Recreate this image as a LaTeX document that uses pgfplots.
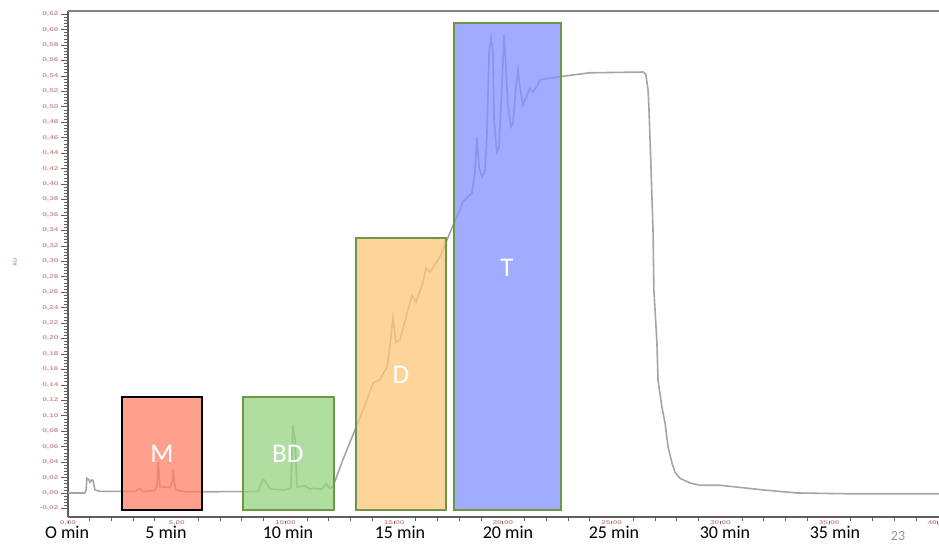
\documentclass[border=0pt]{standalone}
\usepackage{pgfplots}
\pgfplotsset{compat=1.18}
\usepackage{fontspec}
\setmainfont{Carlito}
\setsansfont{Liberation Sans}
\definecolor{curvegray}{RGB}{165,165,165}
\definecolor{axisgray}{RGB}{95,95,95}
\definecolor{topgray}{RGB}{130,130,130}
\definecolor{ticklab}{RGB}{205,150,145}
\definecolor{mfill}{RGB}{255,128,102}
\definecolor{bdfill}{RGB}{148,211,128}
\definecolor{dfill}{RGB}{255,198,122}
\definecolor{tfill}{RGB}{128,144,255}
\definecolor{boxgreen}{RGB}{110,150,70}
\definecolor{pagegray}{RGB}{150,150,150}
\begin{document}
\begin{tikzpicture}[x=1pt,y=1pt]
\useasboundingbox (0,0) rectangle (939,544);
\begin{axis}[
  at={(68pt,27pt)}, anchor=south west,
  scale only axis, width=871pt, height=506pt,
  xmin=0, xmax=40.05, ymin=-0.0311, ymax=0.624,
  axis x line=box, axis y line=left,
  axis line style={-, draw=axisgray, line width=1.1pt},
  xtick={0,5,...,40}, minor x tick num=4,
  ytick={-0.02,0,0.02,0.04,0.06,0.08,0.10,0.12,0.14,0.16,0.18,0.20,0.22,0.24,0.26,0.28,0.30,0.32,0.34,0.36,0.38,0.40,0.42,0.44,0.46,0.48,0.50,0.52,0.54,0.56,0.58,0.60,0.62},
  minor y tick num=4,
  xtick pos=lower, ytick pos=lower,
  tick align=outside,
  major tick length=7pt, minor tick length=4pt,
  tick style={draw=axisgray, line width=0.6pt},
  x tick style={dash pattern=on 3pt off 20pt, line width=1pt},
  /pgf/number format/assume math mode=true,
  ticklabel style={font=\sffamily\bfseries\fontsize{5.5}{5.5}\selectfont, text=ticklab, xscale=1.5},
  xticklabel style={inner sep=1pt, yshift=5pt, /pgf/number format/.cd, fixed, fixed zerofill, precision=2, use comma},
  yticklabel style={inner sep=1.5pt, /pgf/number format/.cd, fixed, fixed zerofill, precision=2, use comma},
  clip=false,
]
\addplot[curvegray, line width=1.6pt] coordinates {
(0.00,0.000) (0.78,0.000) (0.83,0.004) (0.87,0.019) (0.97,0.017) (1.01,0.014)
(1.10,0.017) (1.15,0.016) (1.24,0.004) (1.47,0.002) (3.08,0.002) (3.31,0.006)
(3.45,0.002) (4.00,0.003) (4.10,0.010) (4.14,0.040) (4.20,0.020) (4.23,0.008) (4.69,0.007)
(4.80,0.015) (4.83,0.031) (4.90,0.012) (4.97,0.004) (5.38,0.0015) (8.37,0.0018) (8.74,0.002)
(8.97,0.018) (9.10,0.014) (9.29,0.005) (9.98,0.004) (10.25,0.006) (10.34,0.088)
(10.44,0.069) (10.53,0.008) (10.90,0.009) (11.13,0.005) (11.26,0.006) (11.68,0.005)
(11.86,0.012) (12.05,0.006) (12.18,0.008) (12.64,0.043) (13.20,0.082) (13.66,0.114)
(14.02,0.142) (14.34,0.147) (14.67,0.163) (14.80,0.189) (14.94,0.227) (15.08,0.195)
(15.26,0.198) (15.63,0.237) (15.82,0.256) (16.00,0.247) (16.32,0.272) (16.46,0.291)
(16.64,0.286) (17.10,0.306) (17.43,0.328) (17.80,0.353) (17.93,0.360) (18.16,0.377)
(18.57,0.388) (18.71,0.414) (18.80,0.461) (18.90,0.422) (19.03,0.409) (19.17,0.416)
(19.26,0.461) (19.36,0.570) (19.45,0.590) (19.54,0.570) (19.59,0.483) (19.72,0.441)
(19.82,0.448) (19.95,0.526) (20.05,0.593) (20.14,0.548) (20.23,0.500) (20.37,0.474)
(20.46,0.479) (20.60,0.526) (20.69,0.548) (20.78,0.526) (20.92,0.502) (21.10,0.515)
(21.24,0.524) (21.38,0.519) (21.56,0.526) (21.70,0.535) (22.16,0.537) (22.62,0.539)
(24.00,0.544) (26.44,0.545) (26.57,0.542) (26.67,0.522) (26.71,0.500) (26.80,0.427)
(26.90,0.340) (26.94,0.263) (27.08,0.194) (27.13,0.146) (27.31,0.111) (27.45,0.091)
(27.59,0.060) (27.77,0.039) (27.91,0.027) (28.14,0.019) (28.60,0.013) (29.06,0.010)
(29.98,0.010) (31.95,0.004) (33.52,0.000) (35.82,-0.001) (40.05,-0.001)
};
\draw[draw=black, line width=1.2pt, fill=mfill, fill opacity=0.75, draw opacity=1]
  (axis cs:2.48,-0.022) rectangle (axis cs:6.16,0.1243);
\draw[draw=boxgreen, line width=1.2pt, fill=bdfill, fill opacity=0.75, draw opacity=1]
  (axis cs:8.05,-0.022) rectangle (axis cs:12.23,0.1243);
\draw[draw=boxgreen, line width=1.2pt, fill=dfill, fill opacity=0.75, draw opacity=1]
  (axis cs:13.24,-0.022) rectangle (axis cs:17.38,0.330);
\draw[draw=boxgreen, line width=1.2pt, fill=tfill, fill opacity=0.75, draw opacity=1]
  (axis cs:17.75,-0.022) rectangle (axis cs:22.67,0.6084);
\node[text=white, font=\fontsize{27}{27}\selectfont] at (axis cs:4.32,0.0505) {M};
\node[text=white, font=\fontsize{27}{27}\selectfont] at (axis cs:10.11,0.0505) {BD};
\node[text=white, font=\fontsize{27}{27}\selectfont] at (axis cs:15.31,0.1527) {D};
\node[text=white, font=\fontsize{27}{27}\selectfont] at (axis cs:20.18,0.291) {T};
\end{axis}
\draw[topgray, line width=1.8pt] (68,533) -- (939,533);
\node[rotate=90, text=ticklab, font=\sffamily\bfseries\fontsize{5.5}{5.5}\selectfont] at (15,281) {AU};
\foreach \xx/\lab in {67/O min,166/5 min,288/10 min,400/15 min,508/20 min,614/25 min,725/30 min,835/35 min}{
  \node[font=\fontsize{18}{18}\selectfont, inner sep=0pt] at (\xx,12) {\lab};
}
\node[text=pagegray, font=\fontsize{14}{14}\selectfont, inner sep=0pt] at (898,8) {23};
\end{tikzpicture}
\end{document}
